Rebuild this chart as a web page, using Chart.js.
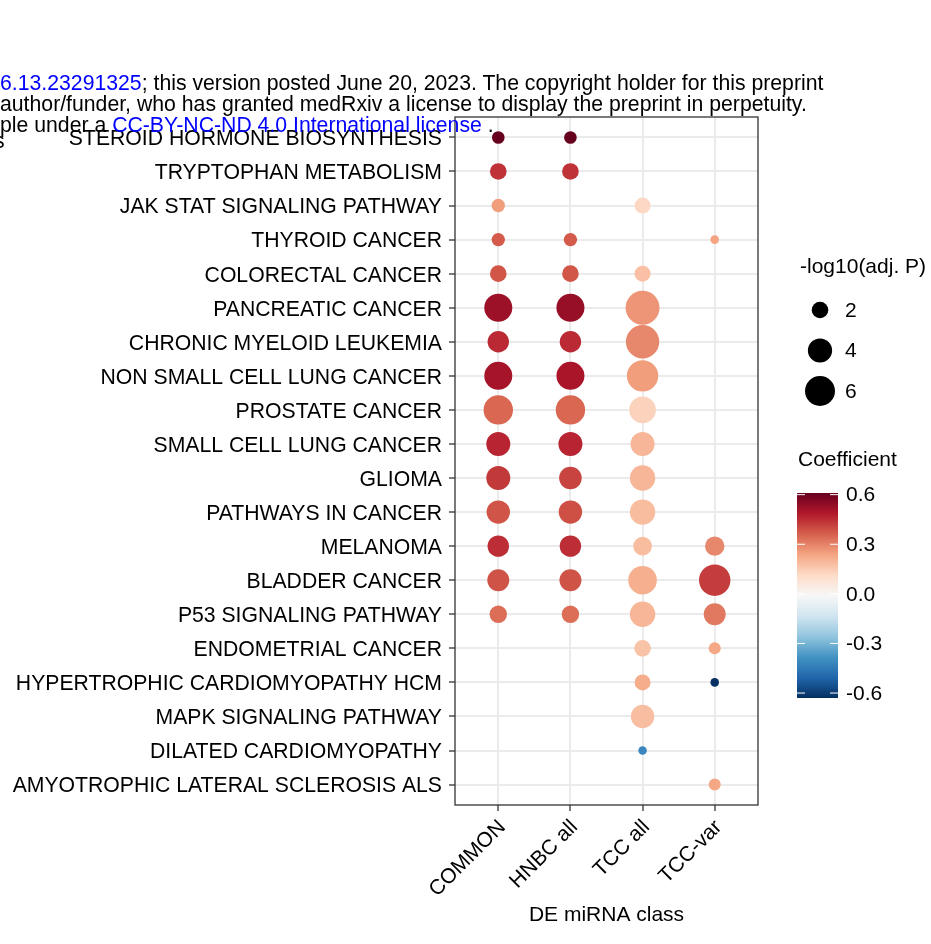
<!DOCTYPE html>
<html>
<head>
<meta charset="utf-8">
<script src="https://cdn.jsdelivr.net/npm/chart.js@4.4.1/dist/chart.umd.min.js"></script>
<style>
  html, body { margin: 0; padding: 0; background: #fff; }
  #wrap { position: relative; width: 931px; height: 944px; overflow: hidden; background: #fff; }
  #plot { position: absolute; left: 0; top: 0; }
  .note { position: absolute; left: 0; white-space: nowrap; color: #000;
          font-family: "Liberation Sans", Arial, sans-serif;
          font-size: 22px; line-height: 22px;
          transform: scaleX(0.965); transform-origin: 0 0; }
  .note .lk { color: #0000ff; }
</style>
</head>
<body>
<div id="wrap">
  <canvas id="plot" width="931" height="944"></canvas>
  <div class="note" style="top:72px"><span class="lk">6.13.23291325</span>; this version posted June 20, 2023. The copyright holder for this preprint</div>
  <div class="note" style="top:93px">author/funder, who has granted medRxiv a license to display the preprint in perpetuity.</div>
  <div class="note" style="top:114px">ple under a <span class="lk">CC-BY-NC-ND 4.0 International license</span> .</div>
  <div class="note" style="top:130px;left:-6px">s</div>
</div>
<script>
// KEGG pathways (top to bottom) and DE miRNA classes (left to right)
const pathways = [
  'STEROID HORMONE BIOSYNTHESIS',
  'TRYPTOPHAN METABOLISM',
  'JAK STAT SIGNALING PATHWAY',
  'THYROID CANCER',
  'COLORECTAL CANCER',
  'PANCREATIC CANCER',
  'CHRONIC MYELOID LEUKEMIA',
  'NON SMALL CELL LUNG CANCER',
  'PROSTATE CANCER',
  'SMALL CELL LUNG CANCER',
  'GLIOMA',
  'PATHWAYS IN CANCER',
  'MELANOMA',
  'BLADDER CANCER',
  'P53 SIGNALING PATHWAY',
  'ENDOMETRIAL CANCER',
  'HYPERTROPHIC CARDIOMYOPATHY HCM',
  'MAPK SIGNALING PATHWAY',
  'DILATED CARDIOMYOPATHY',
  'AMYOTROPHIC LATERAL SCLEROSIS ALS'
];
const classes = ['COMMON', 'HNBC all', 'TCC all', 'TCC-var'];

// Coefficient per pathway (null = not enriched)
const coefCommon = [0.61, 0.44, 0.25, 0.37, 0.38, 0.52, 0.455, 0.507, 0.35, 0.465, 0.43, 0.383, 0.45, 0.385, 0.337, null, null, null, null, null];
const coefHnbc   = [0.61, 0.44, null, 0.37, 0.38, 0.53, 0.455, 0.50, 0.35, 0.465, 0.41, 0.39, 0.45, 0.385, 0.337, null, null, null, null, null];
const coefTccAll = [null, null, 0.12, null, 0.176, 0.267, 0.29, 0.25, 0.135, 0.20, 0.20, 0.185, 0.185, 0.213, 0.20, 0.17, 0.22, 0.18, -0.415, null];
const coefTccVar = [null, null, null, 0.24, null, null, null, null, null, null, null, null, 0.29, 0.424, 0.317, 0.23, -0.63, null, null, 0.23];

// -log10(adjusted P) per pathway
const logpCommon = [1.25, 2.0, 1.38, 1.38, 2.0, 5.26, 3.17, 5.26, 5.77, 3.92, 3.92, 3.74, 3.17, 3.33, 2.17, null, null, null, null, null];
const logpHnbc   = [1.25, 2.0, null, 1.38, 2.0, 5.26, 3.17, 5.26, 5.77, 3.92, 3.5, 3.74, 3.17, 3.33, 2.17, null, null, null, null, null];
const logpTccAll = [null, null, 1.87, null, 1.87, 7.64, 7.38, 6.55, 4.77, 3.92, 4.37, 4.37, 2.45, 5.47, 4.37, 2.0, 1.87, 3.74, 0.7, null];
const logpTccVar = [null, null, null, 0.7, null, null, null, null, null, null, null, null, 2.64, 6.55, 3.33, 1.15, 0.7, null, null, 1.15];

// Legend breaks
const sizeBreaks = [2, 4, 6];
const colorBreaks = [0.6, 0.3, 0.0, -0.3, -0.6];

// RdBu palette, low -> high
const rdbu = ['#053061', '#2166ac', '#4393c3', '#92c5de', '#d1e5f0', '#f7f7f7',
              '#fddbc7', '#f4a582', '#d6604d', '#b2182b', '#67001f'];

const coefByClass = [coefCommon, coefHnbc, coefTccAll, coefTccVar];
const logpByClass = [logpCommon, logpHnbc, logpTccAll, logpTccVar];

const allCoef = coefByClass.flat().filter(v => v !== null);
const coefLo = Math.min(...allCoef);
const coefHi = Math.max(...allCoef);

// bubble area grows linearly with -log10(adj. P)
function radiusFor(v) { return Math.sqrt(Math.max(39 * v - 9, 4)); }

function hexToRgb(h) {
  return [parseInt(h.slice(1, 3), 16), parseInt(h.slice(3, 5), 16), parseInt(h.slice(5, 7), 16)];
}
function colorFor(v) {
  let t = (v - coefLo) / (coefHi - coefLo);
  t = Math.min(1, Math.max(0, t)) * (rdbu.length - 1);
  const i = Math.min(rdbu.length - 2, Math.floor(t));
  const f = t - i;
  const a = hexToRgb(rdbu[i]), b = hexToRgb(rdbu[i + 1]);
  const c = a.map((x, k) => Math.round(x + (b[k] - x) * f));
  return `rgb(${c[0]},${c[1]},${c[2]})`;
}

const FONT = '"Liberation Sans", Arial, Helvetica, sans-serif';
const TEXT = '#000';

const datasets = classes.map((cls, ci) => ({
  label: cls,
  data: pathways.map((p, pi) => coefByClass[ci][pi] === null ? null : {
    x: ci, y: pi, r: radiusFor(logpByClass[ci][pi]), coef: coefByClass[ci][pi]
  }).filter(Boolean),
  backgroundColor: ctx => (ctx.raw && ctx.raw.coef !== undefined) ? colorFor(ctx.raw.coef) : '#000',
  borderWidth: 0,
  hoverRadius: 0,
  hoverBorderWidth: 0
}));

// panel frame drawn over the points
const panelFrame = {
  id: 'panelFrame',
  afterDatasetsDraw(chart) {
    const { ctx, chartArea: a } = chart;
    ctx.save();
    ctx.strokeStyle = '#333';
    ctx.lineWidth = 1.3;
    ctx.strokeRect(a.left, a.top, a.right - a.left, a.bottom - a.top);
    ctx.restore();
  }
};

// size legend and colour bar on the right
const sideLegends = {
  id: 'sideLegends',
  afterDraw(chart) {
    const ctx = chart.ctx;
    ctx.save();
    ctx.font = `21px ${FONT}`;
    ctx.textBaseline = 'middle';
    ctx.textAlign = 'left';
    ctx.fillStyle = TEXT;
    ctx.fillText('-log10(adj. P)', 800, 267);
    sizeBreaks.forEach((v, i) => {
      const cy = 310 + i * 40.5;
      ctx.beginPath();
      ctx.arc(820, cy, radiusFor(v), 0, Math.PI * 2);
      ctx.fillStyle = '#000';
      ctx.fill();
      ctx.fillStyle = TEXT;
      ctx.fillText(String(v), 845, cy + 1);
    });

    ctx.fillText('Coefficient', 798, 460);
    const bx = 797, bw = 41, by = 493, bh = 205;
    const g = ctx.createLinearGradient(0, by, 0, by + bh);
    rdbu.forEach((c, i) => g.addColorStop(1 - i / (rdbu.length - 1), c));
    ctx.fillStyle = g;
    ctx.fillRect(bx, by, bw, bh);
    ctx.strokeStyle = '#fff';
    ctx.lineWidth = 1;
    colorBreaks.forEach(v => {
      const yy = by + (coefHi - v) / (coefHi - coefLo) * bh;
      ctx.beginPath();
      ctx.moveTo(bx, yy); ctx.lineTo(bx + 8, yy);
      ctx.moveTo(bx + bw - 8, yy); ctx.lineTo(bx + bw, yy);
      ctx.stroke();
      ctx.fillStyle = TEXT;
      ctx.fillText(v.toFixed(1), 846, yy + 1);
    });
    ctx.restore();
  }
};

new Chart(document.getElementById('plot'), {
  type: 'bubble',
  data: { datasets },
  plugins: [panelFrame, sideLegends],
  options: {
    responsive: false,
    devicePixelRatio: 1,
    animation: false,
    events: [],
    layout: { padding: { left: 0, top: 117, right: 173, bottom: 0 } },
    plugins: { legend: { display: false }, tooltip: { enabled: false } },
    scales: {
      x: {
        type: 'linear', position: 'bottom', min: -0.6, max: 3.6, bounds: 'data',
        afterBuildTicks: s => { s.ticks = classes.map((_, i) => ({ value: i })); },
        afterFit: s => { s.height = 139; },
        grid: { color: '#ebebeb', lineWidth: 2, tickColor: '#333', tickWidth: 1.3, tickLength: 6 },
        border: { display: false },
        ticks: {
          autoSkip: false, minRotation: 45, maxRotation: 45, padding: 4, labelOffset: 4,
          color: TEXT, font: { family: FONT, size: 21 },
          callback: v => classes[v]
        },
        title: {
          display: true, text: 'DE miRNA class', color: TEXT,
          font: { family: FONT, size: 21 }, padding: { top: 0, bottom: 16 }
        }
      },
      y: {
        type: 'linear', position: 'left', min: -0.6, max: 19.6, reverse: true, bounds: 'data',
        afterBuildTicks: s => { s.ticks = pathways.map((_, i) => ({ value: i })); },
        afterFit: s => { s.width = 455; },
        grid: { color: '#ebebeb', lineWidth: 2, tickColor: '#333', tickWidth: 1.3, tickLength: 6 },
        border: { display: false },
        ticks: {
          autoSkip: false, padding: 7, labelOffset: 2, color: TEXT,
          font: { family: FONT, size: 21.2 },
          callback: v => pathways[v]
        }
      }
    }
  }
});
</script>
</body>
</html>
